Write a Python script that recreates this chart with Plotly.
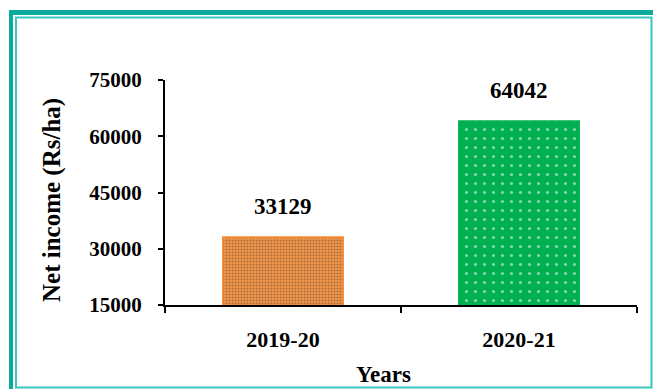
import plotly.graph_objects as go

years = ["2019-20", "2020-21"]
net_income = [33129, 64042]
y_ticks = [15000, 30000, 45000, 60000, 75000]
y_tick_labels = ["15000", "30000", "45000", "60000", "75000"]

W, H = 653, 389
L, R, T, B = 165, 16, 80, 84
pw, ph = W - L - R, H - T - B

def px(x):
    return (x - L) / pw

def py(y):
    return (H - B - y) / ph

font_family = "Liberation Serif"

fig = go.Figure()
fig.add_trace(go.Bar(
    x=years,
    y=net_income,
    width=0.51,
    marker=dict(
        color=["#F79646", "#00B050"],
        line=dict(color=["#F58A35", "#00B050"], width=1.5),
        pattern=dict(
            shape=[".", "."],
            fgcolor=["#FDD4AE", "#7DD99C"],
            bgcolor=["#F7974A", "#00B050"],
            size=[3, 9],
            solidity=[0.35, 0.1],
            fillmode="overlay",
        ),
    ),
    showlegend=False,
))

annotations = []
for xv, yv in zip(years, net_income):
    annotations.append(dict(
        x=xv, y=yv, xref="x", yref="y", text=str(yv), showarrow=False,
        yanchor="bottom", yshift=16,
        font=dict(family=font_family, size=23, color="black", weight="bold"),
    ))

annotations.append(dict(
    x=px(383), y=py(374), xref="paper", yref="paper", text="Years", showarrow=False,
    xanchor="center", yanchor="middle",
    font=dict(family=font_family, size=23, color="black", weight="bold"),
))
annotations.append(dict(
    x=px(52), y=py(200), xref="paper", yref="paper", text="Net income (Rs/ha)",
    showarrow=False, textangle=-90, xanchor="center", yanchor="middle",
    font=dict(family=font_family, size=25, color="black", weight="bold"),
))

shapes = [
    dict(type="line", xref="paper", yref="paper", x0=px(9), x1=px(653), y0=py(12.5), y1=py(12.5),
         line=dict(color="#0AAB9C", width=5)),
    dict(type="line", xref="paper", yref="paper", x0=px(11), x1=px(11), y0=py(10), y1=py(389),
         line=dict(color="#0AAB9C", width=4)),
    dict(type="rect", xref="paper", yref="paper", x0=px(16), x1=px(651.5), y0=py(17.5), y1=py(387.5),
         line=dict(color="#3CC6BE", width=2)),
]

fig.update_layout(
    width=W, height=H,
    margin=dict(l=L, r=R, t=T, b=B, autoexpand=False),
    paper_bgcolor="white", plot_bgcolor="white",
    annotations=annotations,
    shapes=shapes,
)
fig.update_xaxes(
    range=[-0.5, 1.5], showgrid=False, showline=True, linecolor="black", linewidth=2,
    ticks="outside", ticklen=6, tickwidth=2, tickcolor="black", tickson="boundaries",
    tickfont=dict(family=font_family, size=22, color="black", weight="bold"),
    ticklabelstandoff=14,
)
fig.update_yaxes(
    range=[15000, 75000], tickvals=y_ticks, ticktext=y_tick_labels,
    showgrid=False, zeroline=False,
    showline=True, linecolor="black", linewidth=2,
    ticks="outside", ticklen=5, tickwidth=2, tickcolor="black",
    tickfont=dict(family=font_family, size=21, color="black", weight="bold"),
    ticklabelstandoff=12,
)

fig.write_html("out.html")
